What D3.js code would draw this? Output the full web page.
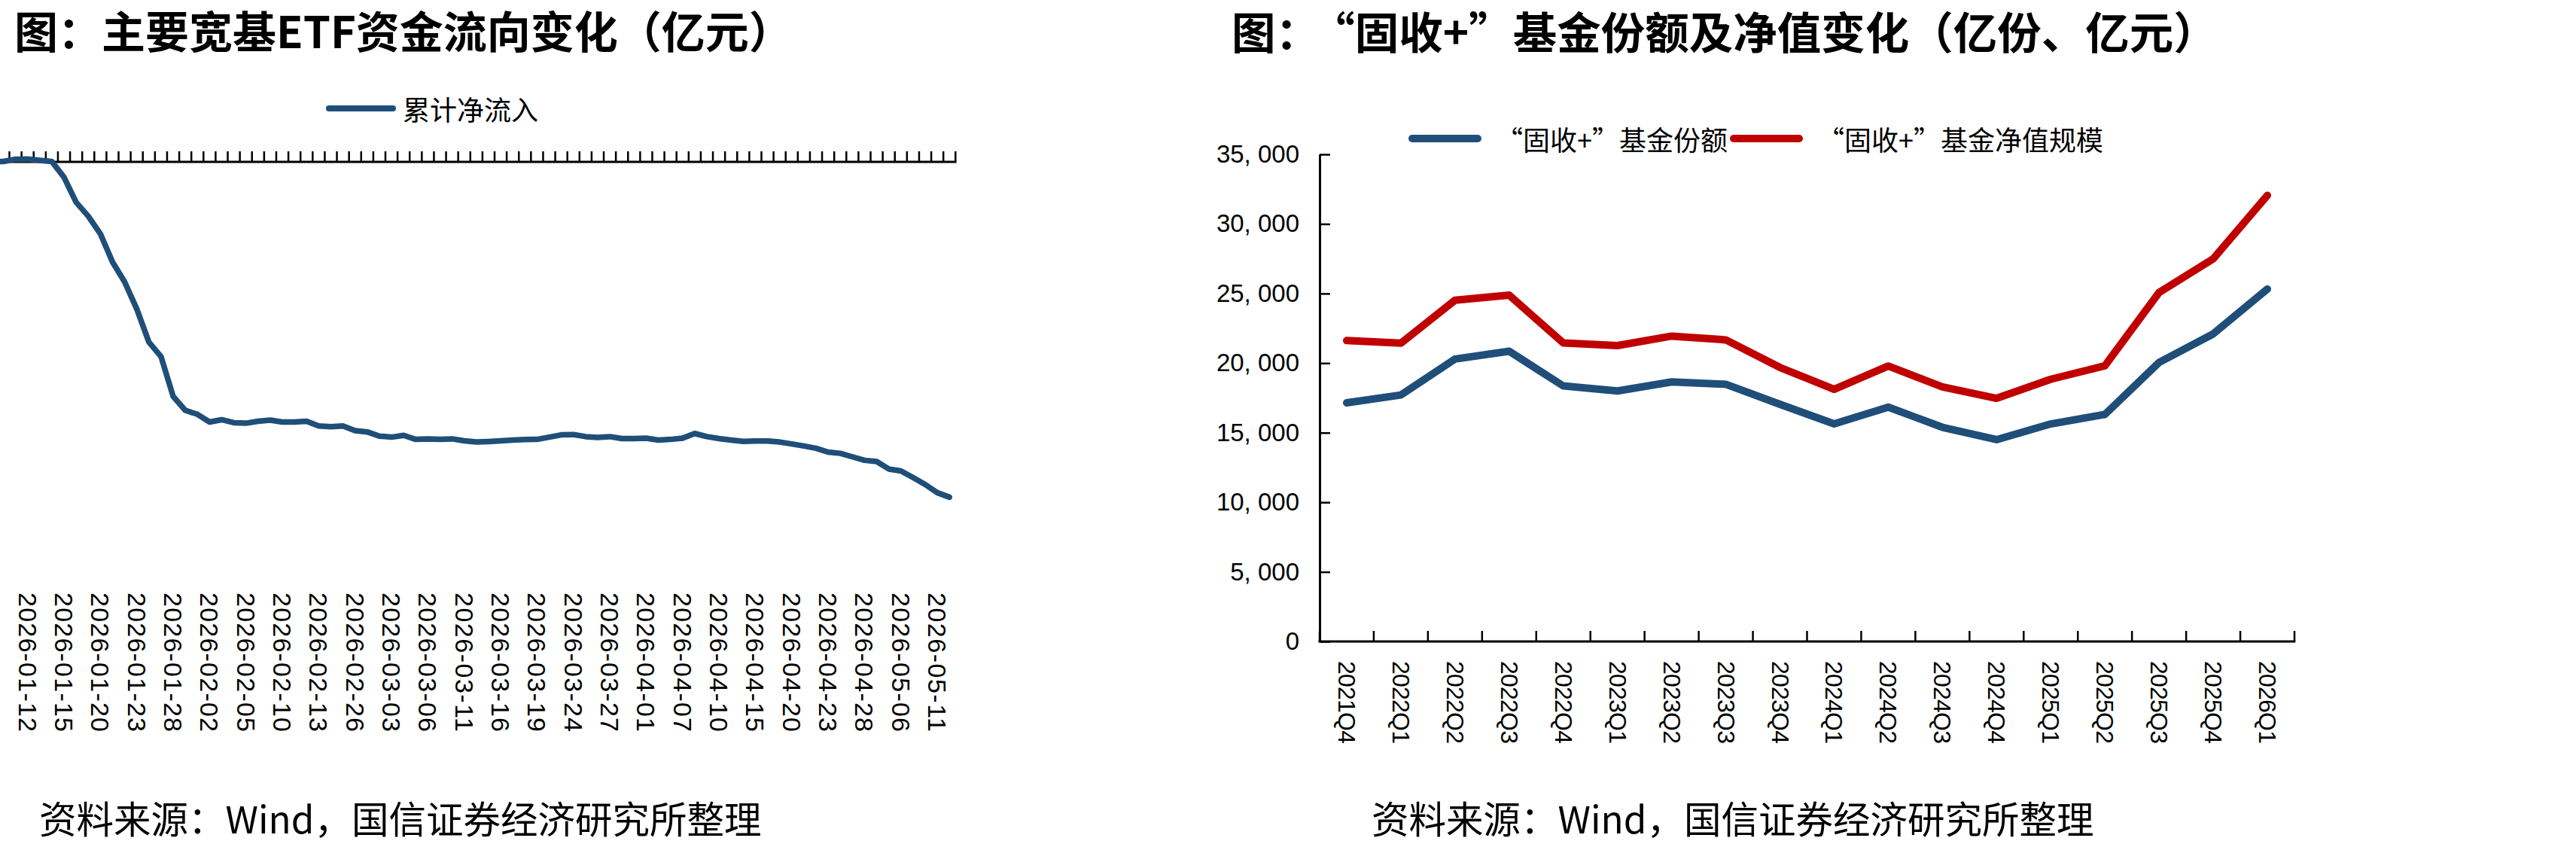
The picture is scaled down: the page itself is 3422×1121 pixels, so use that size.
<!DOCTYPE html>
<html>
<head>
<meta charset="utf-8">
<script src="https://cdn.jsdelivr.net/npm/d3@7"></script>
<style>
  html, body { margin: 0; padding: 0; background: #fff; }
  svg { display: block; background: #fff; }
  .cjk { font-family: "Noto Sans CJK SC", sans-serif; fill: #000; }
  .num { font-family: "Liberation Sans", Arial, sans-serif; fill: #000; }
</style>
</head>
<body>
<svg id="chart" width="3422" height="1121"></svg>
<script>
// left chart: cumulative net inflow of broad-based ETFs (亿元), per trading day
var etfDates = [
  "2026-01-05","2026-01-06","2026-01-07","2026-01-08","2026-01-09",
  "2026-01-12","2026-01-13","2026-01-14","2026-01-15","2026-01-16",
  "2026-01-19","2026-01-20","2026-01-21","2026-01-22","2026-01-23",
  "2026-01-26","2026-01-27","2026-01-28","2026-01-29","2026-01-30",
  "2026-02-02","2026-02-03","2026-02-04","2026-02-05","2026-02-06",
  "2026-02-09","2026-02-10","2026-02-11","2026-02-12","2026-02-13",
  "2026-02-24","2026-02-25","2026-02-26","2026-02-27",
  "2026-03-02","2026-03-03","2026-03-04","2026-03-05","2026-03-06",
  "2026-03-09","2026-03-10","2026-03-11","2026-03-12","2026-03-13",
  "2026-03-16","2026-03-17","2026-03-18","2026-03-19","2026-03-20",
  "2026-03-23","2026-03-24","2026-03-25","2026-03-26","2026-03-27",
  "2026-03-30","2026-03-31","2026-04-01","2026-04-02","2026-04-03",
  "2026-04-07","2026-04-08","2026-04-09","2026-04-10",
  "2026-04-13","2026-04-14","2026-04-15","2026-04-16","2026-04-17",
  "2026-04-20","2026-04-21","2026-04-22","2026-04-23","2026-04-24",
  "2026-04-27","2026-04-28","2026-04-29","2026-04-30",
  "2026-05-06","2026-05-07","2026-05-08","2026-05-11","2026-05-12"
];
var etfFlow = [
  0, 6, 14, 10,
  78, 80, 45, 9, -440, -1160, -1560, -2065, -2875, -3450,
  -4225, -5175, -5590, -6735, -7135, -7250, -7470, -7405, -7490, -7505,
  -7450, -7415, -7470, -7470, -7450, -7585, -7605, -7585, -7720, -7755,
  -7875, -7905, -7855, -7970, -7955, -7970, -7955, -8010, -8045, -8030,
  -8010, -7990, -7975, -7970, -7905, -7840, -7830, -7890, -7915, -7890,
  -7945, -7945, -7935, -7990, -7970, -7935, -7800, -7890, -7945, -7990,
  -8025, -8015, -8015, -8045, -8100, -8160, -8225, -8335, -8370, -8470,
  -8570, -8605, -8820, -8875, -9065, -9265, -9500, -9630
];

// right chart: "固收+" fund shares (亿份) and net asset value (亿元)
var quarters = ["2021Q4","2022Q1","2022Q2","2022Q3","2022Q4","2023Q1","2023Q2","2023Q3","2023Q4",
  "2024Q1","2024Q2","2024Q3","2024Q4","2025Q1","2025Q2","2025Q3","2025Q4","2026Q1"];
var fundShares = [17150, 17710, 20290, 20850, 18360, 18000, 18650, 18480, 17040,
  15630, 16840, 15390, 14500, 15630, 16310, 20050, 22100, 25320];
var fundNav = [21620, 21430, 24520, 24880, 21450, 21260, 21940, 21670, 19690,
  18120, 19790, 18290, 17470, 18840, 19810, 25070, 27490, 32050];
var yTicks = [0, 5000, 10000, 15000, 20000, 25000, 30000, 35000];

var blue = '#1f4e79';
var red = '#c00000';
var svg = d3.select('#chart');

// ---------- left chart ----------
var xL = d3.scaleBand().domain(etfDates).range([-51.95, 1269.3]);
var yL = d3.scaleLinear().domain([-12000, 0]).range([770, 215]);
var stepL = xL.step();

svg.append('text').attr('class', 'cjk')
  .attr('x', 19).attr('y', 39).attr('dominant-baseline', 'central')
  .style('font-size', '58px').style('font-weight', 700)
  .text('图：主要宽基ETF资金流向变化（亿元）');

var legL = svg.append('g');
legL.append('line').attr('x1', 437).attr('x2', 522).attr('y1', 144).attr('y2', 144)
  .attr('stroke', blue).attr('stroke-width', 8).attr('stroke-linecap', 'round');
legL.append('text').attr('class', 'cjk').attr('x', 535).attr('y', 144)
  .attr('dominant-baseline', 'central').style('font-size', '36px').text('累计净流入');

var boundsL = etfDates.map(function (d) { return xL(d); }).concat([xL.range()[1]]);
svg.append('g').selectAll('line').data(boundsL).enter().append('line')
  .attr('x1', function (d) { return d; }).attr('x2', function (d) { return d; })
  .attr('y1', yL(0)).attr('y2', yL(0) - 14)
  .attr('stroke', '#000').attr('stroke-width', 2.5);
svg.append('line')
  .attr('x1', xL.range()[0]).attr('x2', xL.range()[1] + 1.2)
  .attr('y1', yL(0)).attr('y2', yL(0))
  .attr('stroke', '#000').attr('stroke-width', 3);

svg.append('path').datum(etfFlow)
  .attr('fill', 'none').attr('stroke', blue).attr('stroke-width', 7.5)
  .attr('stroke-linejoin', 'round').attr('stroke-linecap', 'round')
  .attr('d', d3.line()
    .x(function (d, i) { return xL(etfDates[i]) + stepL / 2; })
    .y(function (d) { return yL(d); }));

svg.append('g').selectAll('text')
  .data(etfDates.filter(function (d, i) { return i % 3 === 2; }))
  .enter().append('text').attr('class', 'num')
  .attr('transform', function (d) { return 'translate(' + (xL(d) + stepL / 2) + ',787) rotate(90)'; })
  .attr('dominant-baseline', 'central')
  .attr('textLength', 185).attr('lengthAdjust', 'spacing')
  .style('font-size', '34px')
  .text(function (d) { return d; });

svg.append('text').attr('class', 'cjk')
  .attr('x', 52).attr('y', 1085).attr('dominant-baseline', 'central')
  .style('font-size', '49.5px')
  .text('资料来源：Wind，国信证券经济研究所整理');

// ---------- right chart ----------
var xR = d3.scaleBand().domain(quarters).range([1753, 3048]);
var yR = d3.scaleLinear().domain([0, 35000]).range([852, 205]);
var stepR = xR.step();

var titleR = svg.append('text').attr('class', 'cjk')
  .attr('x', 1636).attr('y', 39).attr('dominant-baseline', 'central')
  .style('font-size', '58.5px').style('font-weight', 700);
titleR.append('tspan').text('图：');
titleR.append('tspan').attr('dx', '0.3em').text('“固收+”基金份额及净值变化（亿份、亿元）');

var legendItems = [
  { name: '“固收+”基金份额', color: blue, x: 1876 },
  { name: '“固收+”基金净值规模', color: red, x: 2303 }
];
var legR = svg.append('g').selectAll('g').data(legendItems).enter().append('g');
legR.append('line')
  .attr('x1', function (d) { return d.x; }).attr('x2', function (d) { return d.x + 87; })
  .attr('y1', 184).attr('y2', 184)
  .attr('stroke', function (d) { return d.color; }).attr('stroke-width', 10)
  .attr('stroke-linecap', 'round');
legR.append('text').attr('class', 'cjk')
  .attr('x', function (d) { return d.x + 111; }).attr('y', 184)
  .attr('dominant-baseline', 'central').style('font-size', '36px')
  .text(function (d) { return d.name; });

var yAxisR = d3.axisLeft(yR).tickValues(yTicks).tickSize(-14).tickSizeOuter(0).tickPadding(27)
  .tickFormat(function (d) { return d3.format(',')(d).replace(',', ', '); });
var gy = svg.append('g').attr('transform', 'translate(1753,0)').call(yAxisR);
gy.select('.domain').attr('stroke', '#000').attr('stroke-width', 3);
gy.selectAll('.tick line').attr('stroke', '#000').attr('stroke-width', 2.5);
gy.selectAll('.tick text').attr('class', 'num').attr('fill', '#000')
  .style('font-size', '33px');

var boundsR = quarters.map(function (d) { return xR(d); }).concat([xR.range()[1]]);
svg.append('g').selectAll('line').data(boundsR).enter().append('line')
  .attr('x1', function (d) { return d; }).attr('x2', function (d) { return d; })
  .attr('y1', yR(0)).attr('y2', yR(0) - 14)
  .attr('stroke', '#000').attr('stroke-width', 2.5);
svg.append('line')
  .attr('x1', xR.range()[0] - 1.5).attr('x2', xR.range()[1] + 1.2)
  .attr('y1', yR(0)).attr('y2', yR(0))
  .attr('stroke', '#000').attr('stroke-width', 3);

var lineR = d3.line()
  .x(function (d, i) { return xR(quarters[i]) + stepR / 2; })
  .y(function (d) { return yR(d); });
[{ values: fundShares, color: blue }, { values: fundNav, color: red }].forEach(function (s) {
  svg.append('path').datum(s.values)
    .attr('fill', 'none').attr('stroke', s.color).attr('stroke-width', 10)
    .attr('stroke-linejoin', 'round').attr('stroke-linecap', 'round')
    .attr('d', lineR);
});

svg.append('g').selectAll('text').data(quarters).enter().append('text')
  .attr('class', 'num')
  .attr('transform', function (d) { return 'translate(' + (xR(d) + stepR / 2) + ',878) rotate(90)'; })
  .attr('dominant-baseline', 'central')
  .attr('textLength', 110).attr('lengthAdjust', 'spacing')
  .style('font-size', '32px')
  .text(function (d) { return d; });

svg.append('text').attr('class', 'cjk')
  .attr('x', 1822).attr('y', 1085).attr('dominant-baseline', 'central')
  .style('font-size', '49.5px')
  .text('资料来源：Wind，国信证券经济研究所整理');
</script>
</body>
</html>
